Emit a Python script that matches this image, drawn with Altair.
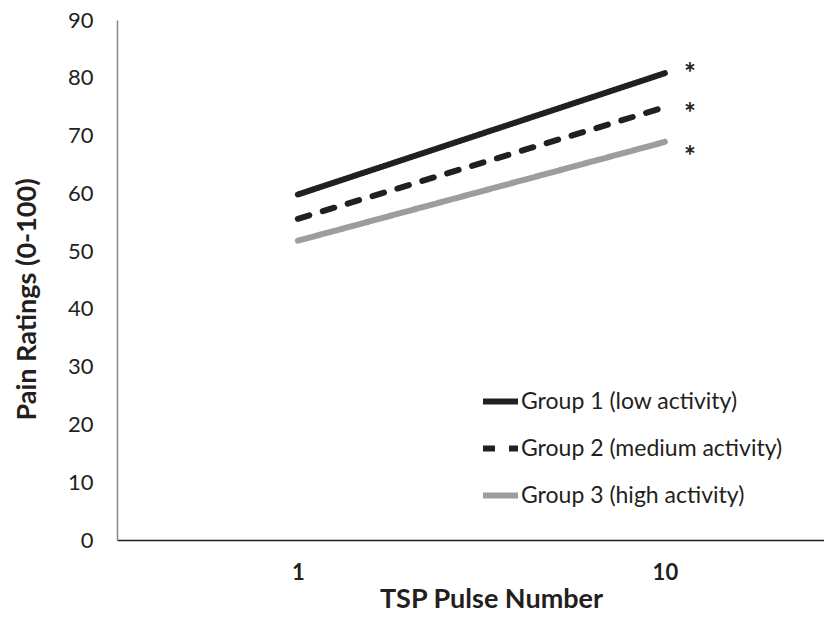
import altair as alt
import pandas as pd

groups = ["Group 1 (low activity)", "Group 2 (medium activity)", "Group 3 (high activity)"]
pulses = ["1", "10"]
g1 = [59.8, 80.8]
g2 = [55.6, 74.9]
g3 = [51.8, 68.9]
star_values = [81.7, 74.8, 67.4]
colors = ["#231f20", "#231f20", "#9d9d9e"]
dashes = [[1, 0], [12, 14], [1, 0]]

rows = []
for g, vals in zip(groups, [g1, g2, g3]):
    for p, v in zip(pulses, vals):
        rows.append({"group": g, "pulse": p, "rating": v})
df = pd.DataFrame(rows)
stars = pd.DataFrame({"group": groups, "pulse": ["10"] * 3, "rating": star_values, "label": ["*"] * 3})

FONT = "Lato"
TXT = "#231f20"

x_enc = alt.X("pulse:N", sort=pulses,
              scale=alt.Scale(type="point", padding=0.4632, align=0.532),
              axis=alt.Axis(title="TSP Pulse Number", labelAngle=0, ticks=False,
                            labelFontWeight="bold", labelFontSize=22, labelPadding=22,
                            titleFontSize=27, titleFontWeight="bold",
                            titleX=374, titleY=67, titleAlign="center", titleBaseline="alphabetic",
                            domainColor="#231f20", domainWidth=1.5))
y_enc = alt.Y("rating:Q", scale=alt.Scale(domain=[0, 90], nice=False),
              axis=alt.Axis(title="Pain Ratings (0-100)", values=list(range(0, 91, 10)),
                            ticks=False, grid=False, labelFontSize=22, labelPadding=24,
                            titleFontSize=27, titleFontWeight="bold",
                            titleX=-90, titleY=279, titleAlign="center", titleBaseline="middle",
                            titleAngle=270,
                            domainColor="#868686", domainWidth=1.5))

leg = alt.Legend(title=None, orient="none", legendX=363, legendY=361,
                 symbolType="stroke", symbolSize=1225, symbolStrokeWidth=6,
                 labelFontSize=23, labelOffset=0, rowPadding=14, labelLimit=0,
                 padding=0, labelColor=TXT, labelFont=FONT)

lines = alt.Chart(df).mark_line(strokeWidth=6, strokeCap="round").encode(
    x=x_enc,
    y=y_enc,
    color=alt.Color("group:N", sort=groups, scale=alt.Scale(domain=groups, range=colors), legend=leg),
    strokeDash=alt.StrokeDash("group:N", sort=groups, scale=alt.Scale(domain=groups, range=dashes), legend=leg),
)

star_text = alt.Chart(stars).mark_text(text="*", fontSize=28, fontWeight="bold", dx=25, dy=7,
                                       baseline="middle", font=FONT, color=TXT).encode(
    x=alt.X("pulse:N", sort=pulses), y="rating:Q")

chart = alt.layer(lines, star_text).properties(
    width=707, height=520,
    autosize=alt.AutoSizeParams(type="none"),
    padding={"left": 109, "top": 12, "right": 0, "bottom": 70},
).configure_view(stroke=None).configure_axis(
    labelFont=FONT, titleFont=FONT, labelColor=TXT, titleColor=TXT
).configure_legend(labelFont=FONT)

chart.save("out.html", embed_options={"renderer": "svg", "actions": False})
